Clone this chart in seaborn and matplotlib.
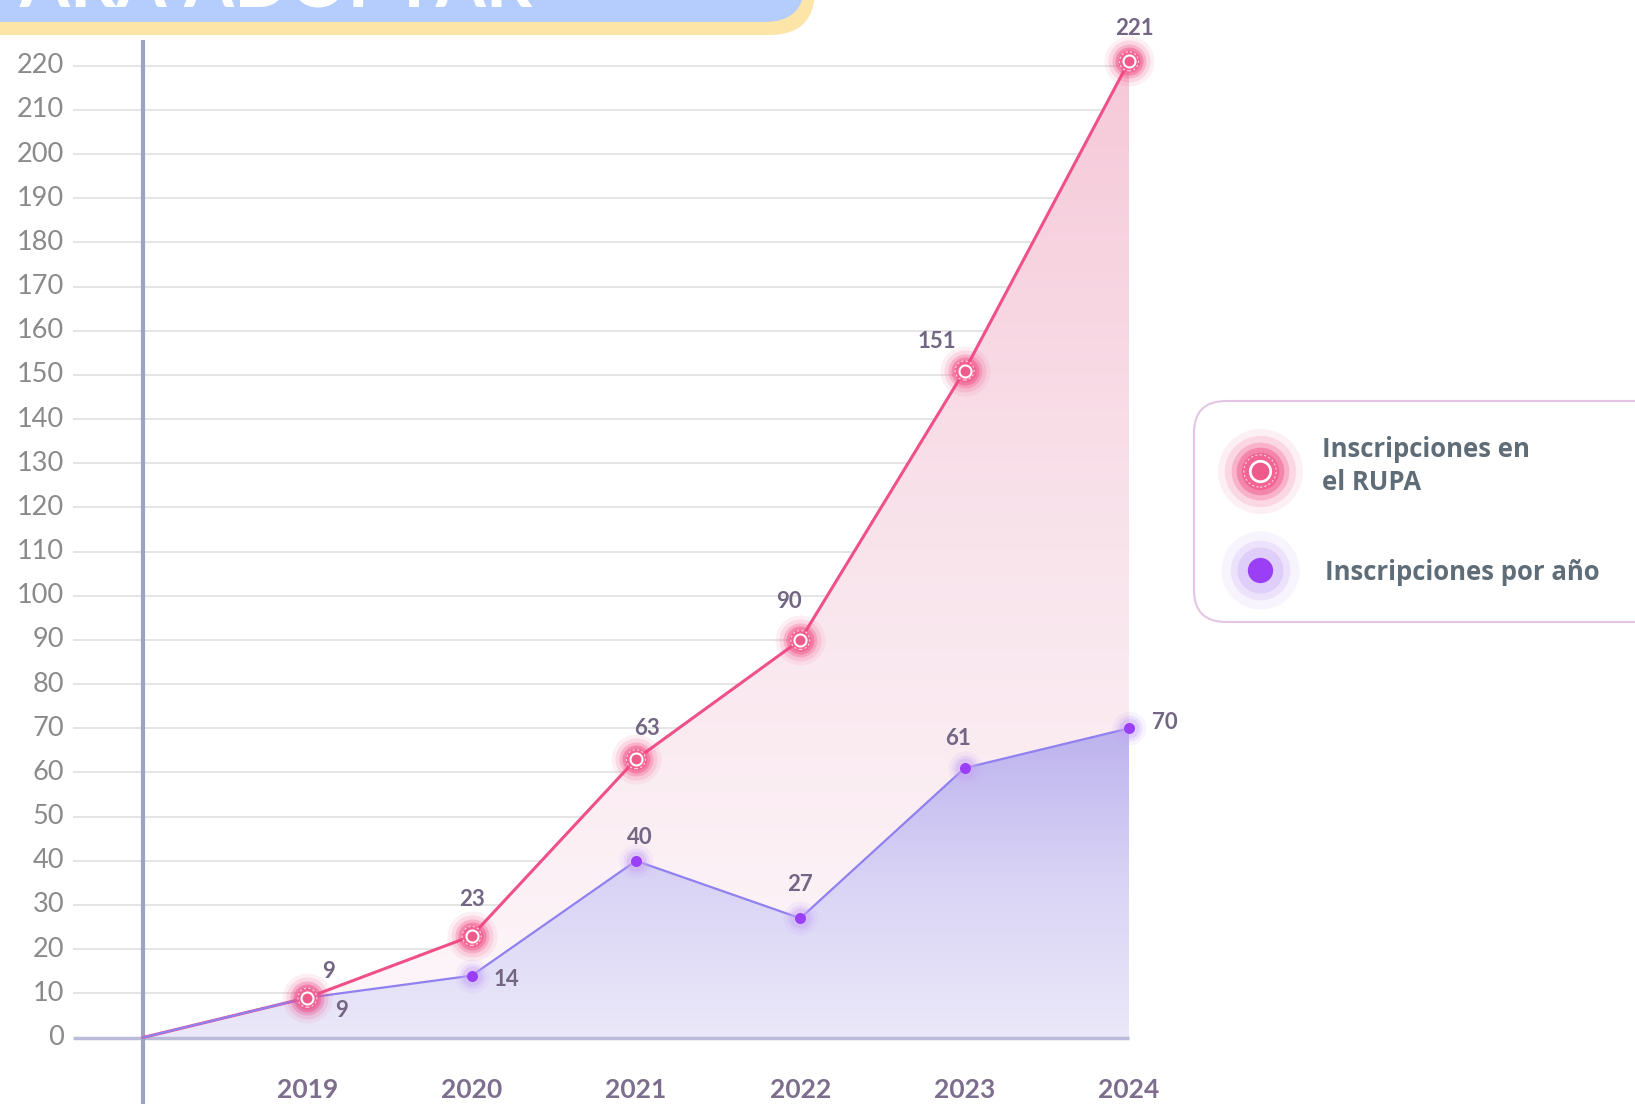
import numpy as np
import matplotlib
matplotlib.use("Agg")
import matplotlib.pyplot as plt
from matplotlib.patches import Polygon, FancyBboxPatch
from matplotlib.colors import LinearSegmentedColormap
import seaborn as sns
import pandas as pd

# data
years = ["2019", "2020", "2021", "2022", "2023", "2024"]
inscripciones_rupa = [9, 23, 63, 90, 151, 221]
inscripciones_anio = [9, 14, 40, 27, 61, 70]
y_ticks = list(range(0, 230, 10))
legend_labels = ["Inscripciones en\nel RUPA", "Inscripciones por año"]
title_text = "PARA ADOPTAR"

# label offsets (points) relative to each marker
rupa_offsets = [(15, 19), (0, 26), (8, 22), (-8, 28), (-20, 21), (4, 24)]
anio_offsets = [(25, -9), (25, -3), (3, 17), (0, 24), (-5, 21), (26, 4)]

PINK = "#f0508a"
PURPLE = "#9080f0"
LABEL_C = "#736684"

sns.set_theme(style="white")
plt.rcParams["font.family"] = ["Lato", "DejaVu Sans"]

W, H = 1635, 1104
fig = plt.figure(figsize=(W / 100, H / 100), dpi=100)
fig.patch.set_facecolor("white")

# main axes over the whole figure; data scale chosen to match the reference
ax = fig.add_axes([0, 0, 1, 1])
ax.set_facecolor("none")
ax.set_axis_off()
px_x = 164.33   # pixels per category step
px_y = 4.417    # pixels per unit
x0_px, y0_px = 143, 1037.5
xlim = (-x0_px / px_x, (W - x0_px) / px_x)
ylim = (-(H - y0_px) / px_y, y0_px / px_y)

# series prefixed with the origin point
xs = np.arange(len(years) + 1)
rupa = np.array([0] + inscripciones_rupa)
anio = np.array([0] + inscripciones_anio)
df = pd.DataFrame({"x": np.concatenate([xs, xs]),
                   "v": np.concatenate([rupa, anio]),
                   "serie": ["rupa"] * len(xs) + ["anio"] * len(xs)})

grid_left = (73 - x0_px) / px_x

# gridlines + tick labels
for t in y_ticks:
    if t == 0:
        continue
    ax.hlines(t, grid_left, xs[-1], color="#dedede", lw=1.1, zorder=1)
for t in y_ticks:
    ax.text((64 - x0_px) / px_x, t, str(t), ha="right", va="center",
            fontsize=19.5, fontweight="normal", color="#8a8a8a")


def gradient_area(xv, yv, colors, zorder):
    verts = [(xv[0], 0)] + list(zip(xv, yv)) + [(xv[-1], 0)]
    poly = Polygon(verts, closed=True, facecolor="none", edgecolor="none")
    ax.add_patch(poly)
    cmap = LinearSegmentedColormap.from_list("g", colors)
    grad = np.linspace(0, 1, 256).reshape(-1, 1)
    im = ax.imshow(grad, cmap=cmap, aspect="auto", origin="lower",
                   extent=[xv[0], xv[-1], 0, max(yv)], zorder=zorder)
    im.set_clip_path(poly)


gradient_area(xs, rupa, ["#fdf7fa", "#f9e4ec", "#f6c8d8"], 2)
gradient_area(xs, anio, ["#ebe8f9", "#d9d4f5", "#bdb2ee"], 3)

# axis lines
ax.hlines(0, grid_left, xs[-1], color="#b9bbd8", lw=2.5, zorder=4)
ax.vlines(0, ylim[0], ylim[1] - 40 / px_y, color="#9ea3c4", lw=3, zorder=4)

sns.lineplot(data=df, x="x", y="v", hue="serie", palette={"rupa": PINK, "anio": PURPLE},
             hue_order=["rupa", "anio"], ax=ax, legend=False, zorder=5)
for line, lw in zip(ax.lines, [2.2, 1.6]):
    line.set_linewidth(lw)


def s_of(r):
    return (1.44 * r) ** 2


def pink_marker(a, x, y, scale=1.0, z=6):
    for r, al in [(25, 0.08), (21, 0.14), (17, 0.25), (14, 0.4)]:
        a.scatter([x], [y], s=s_of(r * scale), color="#f2457f", alpha=al, lw=0, zorder=z, clip_on=False)
    a.scatter([x], [y], s=s_of(11 * scale), color="#f35f90", alpha=0.85, lw=0, zorder=z, clip_on=False)
    a.scatter([x], [y], s=s_of(9.5 * scale), facecolor="none", edgecolor="#ffd6e4",
              lw=0.8, linestyle=(0, (2, 2)), zorder=z + 1, clip_on=False)
    a.scatter([x], [y], s=s_of(6 * scale), facecolor="#ee5b8a", edgecolor="white",
              lw=1.5 * scale ** 0.5, zorder=z + 1, clip_on=False)


def purple_marker(a, x, y, scale=1.0, z=6):
    for r, al in [(17, 0.12), (13, 0.22), (10, 0.35)]:
        a.scatter([x], [y], s=s_of(r * scale), color="#c7a6f8", alpha=al, lw=0, zorder=z, clip_on=False)
    a.scatter([x], [y], s=s_of(5.5 * scale), color="#9a3ff5", lw=0, zorder=z + 1, clip_on=False)


for i, (x, v) in enumerate(zip(xs[1:], inscripciones_anio)):
    purple_marker(ax, x, v)
    ax.annotate(str(v), (x, v), xytext=anio_offsets[i], textcoords="offset points",
                ha="center", va="center", fontsize=16, fontweight="bold", color=LABEL_C, zorder=8)
for i, (x, v) in enumerate(zip(xs[1:], inscripciones_rupa)):
    pink_marker(ax, x, v)
    ax.annotate(str(v), (x, v), xytext=rupa_offsets[i], textcoords="offset points",
                ha="center", va="center", fontsize=16, fontweight="bold", color=LABEL_C, zorder=8)

for x, yr in zip(xs[1:], years):
    ax.text(x, -(1090 - y0_px) / px_y, yr, ha="center", va="center",
            fontsize=19, fontweight="bold", color="#7d6e8e")

ax.set_xlim(*xlim)
ax.set_ylim(*ylim)

# overlay in pixel units for title bar and legend
ov = fig.add_axes([0, 0, 1, 1], zorder=3)
ov.set_xlim(0, W)
ov.set_ylim(H, 0)
ov.set_axis_off()
ov.set_facecolor("none")
ov.add_patch(FancyBboxPatch((-100, -80), 915, 115, boxstyle="round,pad=0,rounding_size=45",
                            facecolor="#fde5a8", edgecolor="none"))
ov.add_patch(FancyBboxPatch((-100, -80), 905, 102, boxstyle="round,pad=0,rounding_size=40",
                            facecolor="#b5cdfc", edgecolor="none"))
ov.text(-25, 8, title_text, ha="left", va="baseline", fontsize=52, fontweight="bold",
        color="white")

ov.add_patch(FancyBboxPatch((1194, 401), 480, 221, boxstyle="round,pad=0,rounding_size=32",
                            facecolor="white", edgecolor="#e4c6e4", lw=1.5))
pink_marker(ov, 1260, 471, scale=1.7, z=4)
purple_marker(ov, 1260, 570, scale=2.3, z=4)
ov.text(1322, 466, legend_labels[0], ha="left", va="center", fontsize=18.5,
        fontweight="bold", color="#5f6d78", family=["Open Sans", "DejaVu Sans"], linespacing=1.3)
ov.text(1325, 572, legend_labels[1], ha="left", va="center", fontsize=18.5,
        fontweight="bold", color="#5f6d78", family=["Open Sans", "DejaVu Sans"])

fig.savefig("out.png", dpi=100)
